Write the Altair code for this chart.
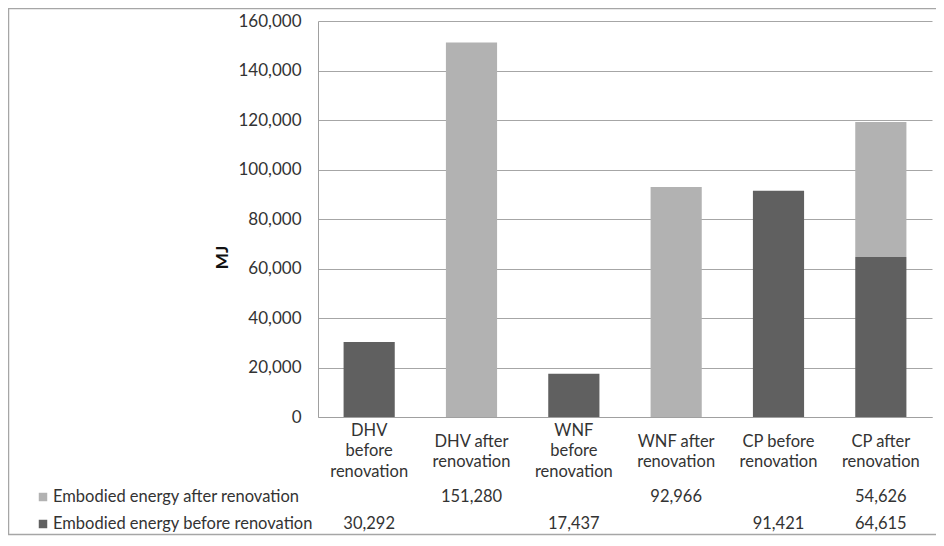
import altair as alt
import pandas as pd

CATEGORIES = [
    "DHV\nbefore\nrenovation",
    "DHV after\nrenovation",
    "WNF\nbefore\nrenovation",
    "WNF after\nrenovation",
    "CP before\nrenovation",
    "CP after\nrenovation",
]
SERIES = ["Embodied energy before renovation", "Embodied energy after renovation"]
BEFORE = [30292, None, 17437, None, 91421, 64615]
AFTER = [None, 151280, None, 92966, None, 54626]
COLORS = ["#606060", "#b2b2b2"]
Y_TICKS = [0, 20000, 40000, 60000, 80000, 100000, 120000, 140000, 160000]

rows = []
for i, c in enumerate(CATEGORIES):
    for s_idx, vals in enumerate([BEFORE, AFTER]):
        if vals[i] is not None:
            rows.append({"category": c, "series": SERIES[s_idx], "order": s_idx, "value": vals[i]})
df = pd.DataFrame(rows)

FONT = "Lato"
W, H = 614, 396
TXT = "#333333"

three_lines = "length(split(datum.label, '\\n')) >= 3"

xenc = alt.X("category:N", sort=CATEGORIES,
             scale=alt.Scale(paddingInner=0.5, paddingOuter=0.25),
             axis=alt.Axis(title=None, labelAngle=0, ticks=False, domainColor="#a0a0a0",
                           labelExpr="split(datum.label, '\\n')", labelLineHeight=20.5,
                           labelBaseline="middle",
                           labelPadding={"condition": {"test": three_lines, "value": 13}, "value": 24},
                           labelFontSize=16.5, labelFont=FONT, labelColor=TXT))

bars = alt.Chart(df).mark_bar().encode(
    x=xenc,
    y=alt.Y("value:Q", stack="zero", scale=alt.Scale(domain=[0, 160000], nice=False),
            axis=alt.Axis(values=Y_TICKS, format=",.0f", ticks=False, labelPadding=17,
                          labelFontSize=17, labelFont=FONT, labelColor=TXT,
                          gridColor="#a6a6a6", domainColor="#a0a0a0",
                          title="MJ", titleAngle=270, titleX=-96, titleY=236,
                          titleAlign="center", titleBaseline="middle",
                          titleFontSize=17, titleFont=FONT, titleFontWeight="bold",
                          titleColor="#111111")),
    color=alt.Color("series:N", scale=alt.Scale(domain=SERIES, range=COLORS), legend=None),
    order=alt.Order("order:Q", sort="ascending"),
)

xtext = alt.X("category:N", sort=CATEGORIES)

after_vals = alt.Chart(df).transform_filter(alt.datum.series == SERIES[1]).mark_text(
    fontSize=16.5, font=FONT, color=TXT, baseline="middle").encode(
    x=xtext, y=alt.value(476), text=alt.Text("value:Q", format=","))
before_vals = alt.Chart(df).transform_filter(alt.datum.series == SERIES[0]).mark_text(
    fontSize=16.5, font=FONT, color=TXT, baseline="middle").encode(
    x=xtext, y=alt.value(503), text=alt.Text("value:Q", format=","))

leg_after_txt = alt.Chart(alt.Data(values=[{"s": SERIES[1]}])).mark_text(
    fontSize=16.5, font=FONT, color=TXT, align="left", baseline="middle").encode(
    x=alt.value(-265), y=alt.value(476), text="s:N")
leg_before_txt = alt.Chart(alt.Data(values=[{"s": SERIES[0]}])).mark_text(
    fontSize=16.5, font=FONT, color=TXT, align="left", baseline="middle").encode(
    x=alt.value(-265), y=alt.value(503), text="s:N")
leg_after_sw = alt.Chart(alt.Data(values=[{"s": SERIES[1]}])).mark_square(
    size=72, color=COLORS[1], opacity=1).encode(x=alt.value(-275), y=alt.value(476))
leg_before_sw = alt.Chart(alt.Data(values=[{"s": SERIES[0]}])).mark_square(
    size=72, color=COLORS[0], opacity=1).encode(x=alt.value(-275), y=alt.value(503))

border = alt.Chart(alt.Data(values=[{"b": 1}])).mark_rect(
    fill="transparent", stroke="#a6a6a6", strokeWidth=1.5).encode(
    x=alt.value(-309.5), x2=alt.value(W + 30), y=alt.value(-12.5), y2=alt.value(H + 117.5))

chart = alt.layer(
    border, bars, after_vals, before_vals,
    leg_after_sw, leg_before_sw, leg_after_txt, leg_before_txt,
).properties(
    width=W, height=H,
    autosize=alt.AutoSizeParams(type="none"),
    padding={"left": 310, "top": 13, "right": 4, "bottom": 120},
).configure_view(stroke=None)

chart.save("out.html", embed_options={"renderer": "svg", "actions": False})
